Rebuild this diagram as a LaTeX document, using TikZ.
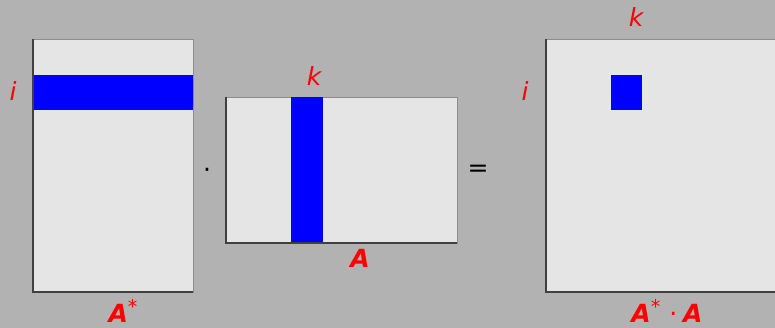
\documentclass[tikz,border=0pt]{standalone}
\usepackage{fontspec}
\setmainfont{DejaVu Sans}
\newcommand{\mystar}{\raisebox{9pt}{\fontsize{19}{22}\selectfont\mdseries\upshape *}}
\begin{document}
\begin{tikzpicture}[x=1pt,y=-1pt,
  matbox/.style={fill=black!10, draw=black!45, line width=0.6pt, inner sep=0pt, outer sep=0pt},
  bluebox/.style={fill=blue, draw=none, inner sep=0pt, outer sep=0pt},
  lbl/.style={text=red, font=\fontsize{25}{30}\selectfont\itshape, inner sep=0pt},
  blbl/.style={text=red, font=\fontsize{25}{30}\selectfont\bfseries\itshape, inner sep=0pt, anchor=base},
  op/.style={text=black, font=\fontsize{25}{30}\selectfont, inner sep=0pt}]
\fill[black!30] (0,0) rectangle (775,328);
\useasboundingbox (0,0) rectangle (775,328);
\begin{scope}
\clip (0,0) rectangle (775,328);
% left matrix A*
\node[matbox, minimum width=160pt, minimum height=253pt] (As) at (113,165.5) {};
\node[bluebox, minimum width=160pt, minimum height=35pt] (row) at (113,92.5) {};
\draw[black!75, line width=1.2pt] (As.north west) -- (As.south west) -- (As.south east);
% middle matrix A
\node[matbox, minimum width=231pt, minimum height=146pt] (Am) at (341.5,170) {};
\node[bluebox, minimum width=32pt, minimum height=146pt] (col) at (307,170) {};
\draw[black!75, line width=1.2pt] (Am.north west) -- (Am.south west) -- (Am.south east);
% right matrix A*A
\node[matbox, minimum width=260pt, minimum height=253pt] (P) at (676,165.5) {};
\node[bluebox, minimum width=31pt, minimum height=35pt] (cell) at (626.5,92.5) {};
\draw[black!75, line width=1.2pt] (P.north west) -- (P.south west) -- (P.south east);
\end{scope}
% labels
\node[lbl] (li) at (13,91) {i};
\node[lbl] (lk) at (314,76) {k};
\node[lbl] (rk) at (636,17.5) {k};
\node[lbl] (ri) at (525,91) {i};
\node[blbl] (lA) at (360,267) {A};
\node[blbl] (lAs) at (123,322) {A\mystar};
\node[blbl] (lP) at (667,322) {A\mystar\hspace{9pt}{\mdseries\upshape ·}\hspace{6pt}A};
% operators
\node[op] (dot) at (207,173) {·};
\node[op] (eq) at (478,171) {=};
\end{tikzpicture}
\end{document}
